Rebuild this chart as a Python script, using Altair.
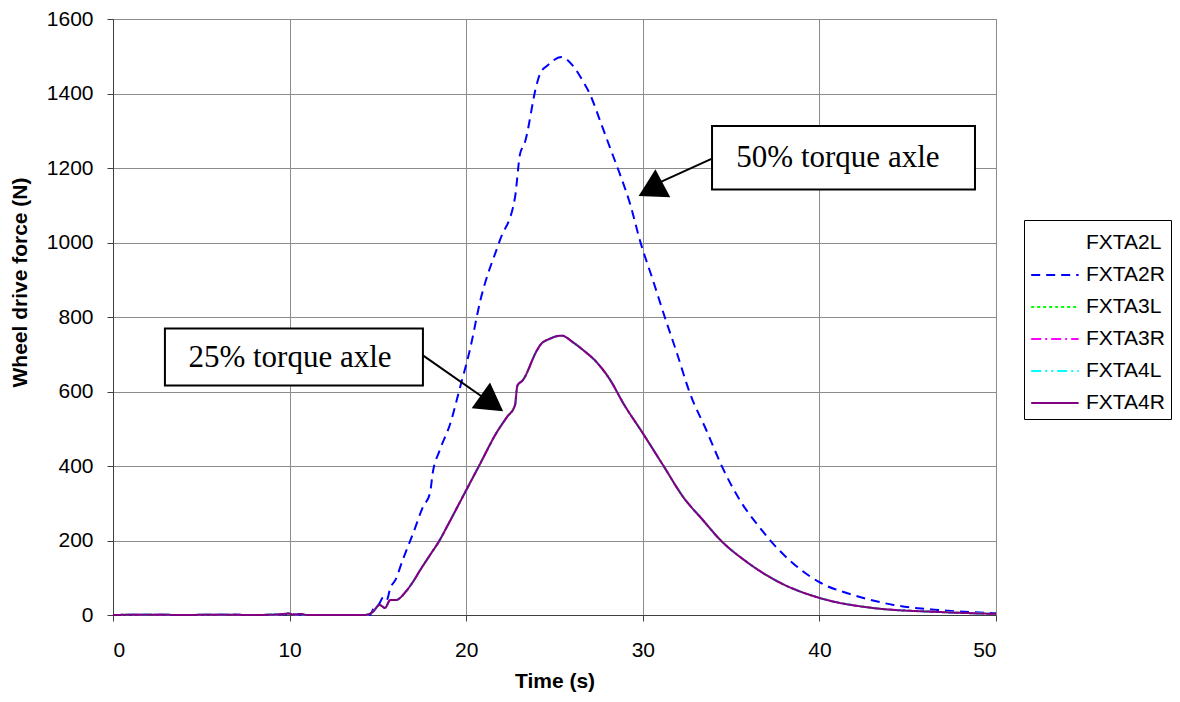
import altair as alt
import pandas as pd

# ---- data ----
t_50 = [0, 2, 4, 6, 8, 10, 11, 14.0, 14.55, 14.7, 15.1, 15.3, 15.5, 15.7, 16.0, 16.4,
        17.0, 17.55, 17.95, 18.1, 18.5, 19.1, 19.65, 20.2, 20.8, 21.9, 22.76, 23.05,
        23.3, 24.0, 24.18, 24.6, 25.4, 26.05, 26.6, 27.0, 27.58, 28.14, 28.7, 29.28,
        29.84, 30.58, 31.25, 31.94, 32.67, 33.6, 34.5, 35.5, 36.6, 37.2, 38.5, 40.0,
        41.9, 44.2, 46.8, 50.0]
f_50 = [0, 1, 0, 1, 0, 2, 0, 0, 0, 13, 32, 48, 40, 72, 95, 147,
        220, 290, 327, 380, 442, 514, 611, 710, 844, 1005, 1120, 1238,
        1265, 1426, 1453, 1475, 1498, 1474, 1434, 1399, 1327, 1255, 1184, 1104,
        1005, 898, 799, 702, 595, 496, 397, 308, 236, 201, 139, 88,
        54, 27, 13, 5]

t_25 = [0, 2, 4, 6, 8, 9.5, 9.9, 10.3, 10.6, 11, 14.27, 14.7, 15.1, 15.4, 15.7, 16.0,
        16.65, 17.0, 17.4, 17.95, 18.5, 18.9, 19.5, 20.0, 20.8, 21.7, 22.3, 22.76,
        22.9, 23.2, 24.0, 24.18, 24.75, 25.4, 26.05, 26.6, 27.4, 28.14, 28.9, 30.0,
        31.15, 32.3, 33.4, 34.4, 35.9, 37.8, 40.0, 43.0, 46.8, 50.0]
f_25 = [0, 1, 0, 1, 0, 2, 4, 1, 3, 0, 0, 8, 27, 19, 40, 40,
        67, 90, 121, 161, 201, 236, 290, 335, 407, 488, 531, 563,
        616, 630, 710, 724, 742, 750, 732, 712, 678, 632, 568, 488,
        402, 316, 255, 201, 142, 86, 46, 19, 8, 3]

series = ["FXTA2L", "FXTA2R", "FXTA3L", "FXTA3R", "FXTA4L", "FXTA4R"]
colors = ["transparent", "#0000FF", "#00FF00", "#FF00FF", "#00FFFF", "#800080"]
dashes = [[1, 0], [9, 6], [3, 3], [10, 4, 2, 4], [10, 4, 2, 4, 2, 4], [1, 0]]

series_data = {
    "FXTA2L": (t_50, f_50),
    "FXTA2R": (t_50, f_50),
    "FXTA3L": (t_25, f_25),
    "FXTA3R": (t_25, f_25),
    "FXTA4L": (t_25, f_25),
    "FXTA4R": (t_25, f_25),
}

rows = []
for order, name in enumerate(series):
    ts, fs = series_data[name]
    for i, (t, f) in enumerate(zip(ts, fs)):
        rows.append({"series": name, "order": order, "idx": i, "t": t, "f": f})
df = pd.DataFrame(rows)

# annotations (data units)
ann_text = ["50% torque axle", "25% torque axle"]
ann_tx = [41.05, 10.02]
ann_ty = [1227, 689]
box_x1 = [33.92, 2.94]
box_x2 = [48.81, 17.55]
box_y1 = [1142, 616]
box_y2 = [1313, 769]
arr_x1 = [33.92, 17.55]
arr_y1 = [1225, 697]
arr_x2 = [30.52, 21.35]
arr_y2 = [1152, 571]
head_x = [30.45, 21.46]
head_y = [1142, 568]
head_angle = [242, 125.5]

ann = pd.DataFrame({
    "text": ann_text, "tx": ann_tx, "ty": ann_ty,
    "bx1": box_x1, "bx2": box_x2, "by1": box_y1, "by2": box_y2,
    "ax1": arr_x1, "ay1": arr_y1, "ax2": arr_x2, "ay2": arr_y2,
    "hx": head_x, "hy": head_y, "ha": head_angle,
})

xscale = alt.Scale(domain=[0, 50], nice=False, zero=False)
yscale = alt.Scale(domain=[0, 1600], nice=False)

xaxis = alt.Axis(title="Time (s)", values=[0, 10, 20, 30, 40, 50], grid=True,
                 tickSize=6, labelPadding=18, titlePadding=10)
yaxis = alt.Axis(title="Wheel drive force (N)", values=list(range(0, 1601, 200)),
                 format="d", grid=True, tickSize=6, labelPadding=14,
                 titleAngle=270, titleBaseline="middle", titleAlign="center",
                 titleX=-93, titleY=263)

lines = alt.Chart(df).mark_line(strokeWidth=2, interpolate="monotone").encode(
    x=alt.X("t:Q", scale=xscale, axis=xaxis),
    y=alt.Y("f:Q", scale=yscale, axis=yaxis),
    color=alt.Color("series:N", scale=alt.Scale(domain=series, range=colors),
                    legend=alt.Legend(title=None)),
    strokeDash=alt.StrokeDash("series:N", scale=alt.Scale(domain=series, range=dashes),
                              legend=alt.Legend(title=None)),
    order=alt.Order("idx:Q"),
    detail="order:Q",
)

boxes = alt.Chart(ann).mark_rect(fill="white", stroke="black", strokeWidth=2).encode(
    x="bx1:Q", x2="bx2:Q", y="by1:Q", y2="by2:Q")
texts = alt.Chart(ann).mark_text(font="Liberation Serif", fontSize=31, color="black",
                                 align="center", baseline="middle").encode(
    x="tx:Q", y="ty:Q", text="text:N")
arrows = alt.Chart(ann).mark_rule(color="black", strokeWidth=2).encode(
    x="ax1:Q", y="ay1:Q", x2="ax2:Q", y2="ay2:Q")
heads = alt.Chart(ann).mark_point(shape="triangle-up", filled=True, color="black",
                                  opacity=1, size=1000).encode(
    x="hx:Q", y="hy:Q", angle=alt.Angle("ha:Q", scale=None))

chart = alt.layer(lines, boxes, texts, arrows, heads).properties(
    width=883, height=596,
    autosize=alt.AutoSizeParams(type="none"),
    padding={"left": 105, "top": 11, "right": 176, "bottom": 78},
    background="white",
).configure_view(stroke="#8c8c8c", strokeWidth=1).configure_axis(
    labelFont="Liberation Sans", labelFontSize=21, labelColor="black",
    titleFont="Liberation Sans", titleFontSize=21, titleFontWeight="bold", titleColor="black",
    gridColor="#8c8c8c", gridWidth=1, gridOpacity=1,
    domainColor="#404040", domainWidth=1, tickColor="#404040",
).configure_legend(
    orient="none", legendX=911, legendY=201,
    strokeColor="black", fillColor="white", padding=6,
    symbolType="M-1,0H2", symbolSize=1000, symbolStrokeWidth=2,
    labelFont="Liberation Sans", labelFontSize=21, labelColor="black",
    rowPadding=5, labelOffset=22,
)

chart.save("out.html", embed_options={"renderer": "svg", "actions": False})
